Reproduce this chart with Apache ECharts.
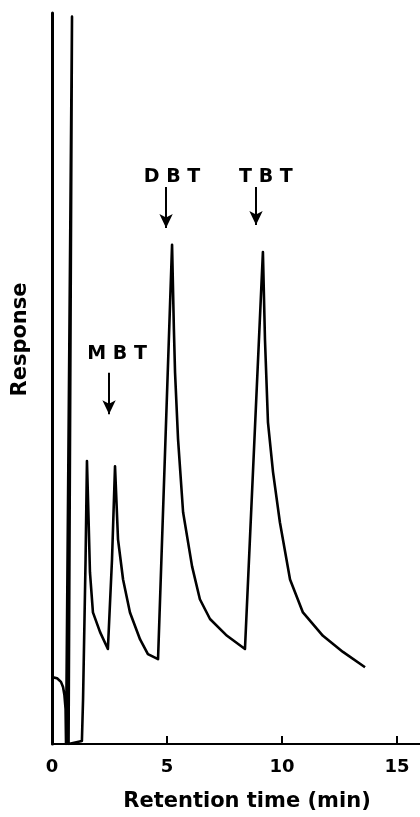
<!DOCTYPE html>
<html>
<head>
<meta charset="utf-8">
<script src="https://cdn.jsdelivr.net/npm/echarts@6/dist/echarts.min.js"></script>
<style>
html,body{margin:0;padding:0;background:#fff;}
#chart{width:420px;height:817px;}
</style>
</head>
<body>
<div id="chart"></div>
<script>
// Retention time (min) and detector response (arbitrary units, 0-100)
const retentionTime = [0, 0.22, 0.39, 0.48, 0.54, 0.59, 0.61, 0.87, 0.72, 1.30, 1.35, 1.46, 1.52, 1.59, 1.65, 1.78, 2.09, 2.43, 2.61, 2.74, 2.87, 3.09, 3.39, 3.83, 4.17, 4.61, 5.22, 5.30, 5.35, 5.48, 5.70, 6.09, 6.43, 6.87, 7.61, 8.39, 9.17, 9.26, 9.39, 9.61, 9.91, 10.35, 10.91, 11.78, 12.65, 13.61];
const response      = [9.15, 9.0, 8.5, 7.8, 6.7, 4.8, 0, 99.5, 0, 0.4, 6.1, 25.3, 38.7, 30.7, 23.5, 18.0, 15.3, 13.0, 25.3, 38.0, 28.0, 22.5, 18.0, 14.3, 12.3, 11.6, 68.3, 56.7, 50.8, 41.7, 31.7, 24.3, 19.8, 17.1, 14.8, 13.0, 67.3, 55.3, 44.0, 37.2, 30.3, 22.5, 18.0, 14.8, 12.6, 10.5];
const xTicks = [0, 5, 10, 15];

// Peak annotations
const peakNames   = ['M B T', 'D B T', 'T B T'];
const labelTime   = [2.83, 5.22, 9.30];
const labelResp   = [53.3, 77.6, 77.6];
const arrowTime   = [2.48, 4.96, 8.87];
const arrowTop    = [50.8, 76.2, 76.2];
const arrowBottom = [45.1, 70.6, 71.0];

const FONT = '"DejaVu Sans", Verdana, sans-serif';
const chart = echarts.init(document.getElementById('chart'));

const traceData = retentionTime.map((t, i) => [t, response[i]]);
const arrows = arrowTime.map((t, i) => [{coord: [t, arrowTop[i]]}, {coord: [t, arrowBottom[i]]}]);
const labels = peakNames.map((n, i) => ({name: n, coord: [labelTime[i], labelResp[i]]}));

chart.setOption({
  animation: false,
  backgroundColor: '#ffffff',
  grid: {left: 52, right: 0, top: 13, bottom: 72, containLabel: false},
  xAxis: {
    type: 'value', min: 0, max: 16,
    name: 'Retention time (min)', nameLocation: 'middle', nameGap: 47,
    nameTextStyle: {fontFamily: FONT, fontWeight: 'bold', fontSize: 21, color: '#000', padding: [0, 0, 0, 22]},
    axisLine: {show: true, lineStyle: {color: '#000', width: 2}},
    axisTick: {show: true, inside: true, length: 8, lineStyle: {color: '#000', width: 2}, customValues: xTicks},
    axisLabel: {show: true, margin: 14, fontFamily: FONT, fontWeight: 'bold', fontSize: 18, color: '#000', customValues: xTicks},
    splitLine: {show: false}
  },
  yAxis: {
    type: 'value', min: 0, max: 100,
    name: 'Response', nameLocation: 'middle', nameRotate: 90, nameGap: 21,
    nameTextStyle: {fontFamily: FONT, fontWeight: 'bold', fontSize: 21, color: '#000', padding: [0, 0, 0, 78]},
    axisLine: {show: true, lineStyle: {color: '#000', width: 3}},
    axisTick: {show: false},
    axisLabel: {show: false},
    splitLine: {show: false}
  },
  series: [{
    type: 'line',
    data: traceData,
    showSymbol: false,
    symbol: 'none',
    smooth: false,
    lineStyle: {color: '#000', width: 2.6, join: 'round'},
    markLine: {
      silent: true,
      symbol: ['none', 'arrow'],
      symbolSize: [10, 14],
      lineStyle: {color: '#000', width: 2, type: 'solid'},
      label: {show: false},
      data: arrows
    },
    markPoint: {
      silent: true,
      symbol: 'circle',
      symbolSize: 0,
      label: {show: true, position: 'inside', formatter: '{b}', fontFamily: FONT, fontWeight: 'bold', fontSize: 19, color: '#000'},
      data: labels
    }
  }]
});
</script>
</body>
</html>
